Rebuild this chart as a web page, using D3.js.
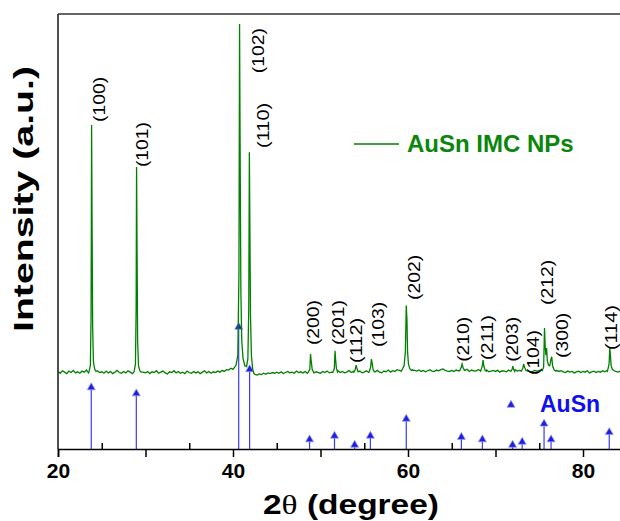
<!DOCTYPE html>
<html><head><meta charset="utf-8">
<script src="https://cdn.jsdelivr.net/npm/d3@7"></script>
<style>html,body{margin:0;padding:0;background:#fff;}svg{display:block;}</style>
</head><body>
<svg id="chart" width="620" height="521"></svg>
<script>
// ---- DATA ----
// measured pattern: background read every 0.25 deg from 20.00 to 84.75
const bgStart = 20, bgStep = 0.25;
const background = [
  24,19,26,22,18,25,21,27,20,23,19,25,22,28,20,24,18,22,26,21,
  23,19,25,20,24,18,22,27,21,19,24,20,26,22,18,25,21,23,19,22,
  20,24,18,23,21,26,19,22,25,20,17,23,21,26,20,24,19,22,18,25,
  21,19,24,20,23,18,22,26,20,24,19,23,21,25,22,27,24,29,28,33,
  30,38,48,60,50,45,40,36,30,22,16,14,17,15,19,16,20,18,21,19,
  22,19,23,18,21,24,20,22,19,25,21,23,20,24,19,22,26,20,23,21,
  19,24,21,25,20,22,18,23,26,21,24,20,22,27,21,24,19,23,25,20,
  22,26,21,24,19,23,27,22,20,25,23,28,22,26,24,29,27,25,28,26,
  29,31,28,27,25,28,24,27,23,26,29,25,24,28,26,29,31,27,25,24,
  27,24,28,26,29,25,27,30,24,28,26,25,29,27,24,26,28,23,25,27,
  24,27,22,26,25,23,28,24,26,29,25,27,23,26,28,25,22,24,27,25,
  26,30,40,60,70,60,45,35,27,24,26,23,21,25,22,24,20,23,25,21,
  24,22,26,20,23,25,21,24,22,26,23,27,28,30,26,24,22,25,23,24
];
// measured peak profiles [2theta, intensity]
const peakProfiles = [
  [[23.55,24],[23.7,40],[23.78,180],[23.84,716],[23.9,420],[23.96,150],[24.05,50],[24.2,30],[24.35,24]],
  [[28.7,23],[28.85,45],[28.93,200],[28.98,598],[29.04,350],[29.1,110],[29.2,40],[29.35,26],[29.5,22]],
  [[40.35,42],[40.55,70],[40.68,300],[40.75,1000],[40.82,620],[40.9,250],[41.0,110],[41.15,60],[41.35,40],[41.55,38],[41.7,60],[41.8,200],[41.87,640],[41.93,430],[42.0,180],[42.1,70],[42.25,30],[42.4,18]],
  [[48.6,22],[48.78,30],[48.86,73],[48.93,55],[49.05,30],[49.2,22]],
  [[51.4,21],[51.58,32],[51.66,82],[51.72,60],[51.82,32],[51.95,23]],
  [[53.8,22],[53.98,30],[54.07,42],[54.15,34],[54.3,23]],
  [[55.55,22],[55.72,35],[55.82,59],[55.9,48],[56.0,30],[56.15,23]],
  [[59.35,30],[59.55,40],[59.7,80],[59.8,209],[59.88,170],[59.95,80],[60.05,45],[60.2,32],[60.4,27]],
  [[65.9,26],[66.08,35],[66.18,45],[66.28,36],[66.45,27]],
  [[68.3,25],[68.48,38],[68.58,56],[68.66,40],[68.8,28],[68.95,25]],
  [[71.75,24],[71.9,30],[71.98,39],[72.06,31],[72.2,24]],
  [[72.95,25],[73.12,33],[73.22,45],[73.32,36],[73.5,26]],
  [[75.35,27],[75.5,36],[75.6,146],[75.68,95],[75.76,70],[75.84,90],[75.92,55],[76.05,42],[76.2,40],[76.35,60],[76.43,65],[76.52,40],[76.7,28],[76.9,25]],
  [[82.8,25],[82.98,45],[83.06,90],[83.13,70],[83.22,40],[83.35,30],[83.55,26]]
];
// peak labels: hkl, anchor (2theta, intensity) of label bottom
const hklLabels = ["(100)","(101)","(102)","(110)","(200)","(201)","(112)","(103)","(202)","(210)","(211)","(203)","(104)","(212)","(300)","(114)"];
const hklPos    = [24.65, 29.57, 42.89, 43.43, 49.11, 52.03, 54.06, 56.61, 60.69, 66.32, 68.99, 71.85, 74.32, 75.85, 77.57, 83.2];
const hklInt    = [725, 598, 862, 652, 98, 98, 48, 93, 225, 51, 56, 51, 14, 211, 62, 84];
// AuSn reference pattern (relative intensity)
const refPos = [23.8, 28.95, 40.65, 41.9, 48.75, 51.6, 53.9, 55.7, 59.8, 66.1, 68.5, 71.95, 73.05, 75.55, 76.35, 83.0];
const refInt = [50, 45, 100, 65, 7, 10, 2.5, 10, 24, 9, 7, 2.5, 5, 20, 7, 13];
const majorTicks = [20,30,40,50,60,70,80];
const minorTicks = [25,35,45,55,65,75,85];
const tickLabels = {20:"20",40:"40",60:"60",80:"80"};
const seriesName = "AuSn IMC NPs";
const refName = "AuSn";

// ---- BUILD ----
const svg = d3.select("#chart");
const x = d3.scaleLinear().domain([20, 85]).range([58, 626.75]);
const yObs = d3.scaleLinear().domain([0, 1000]).range([380, 24]);
const yRef = d3.scaleLinear().domain([0, 100]).range([449, 328]);
const plotTop = 14, plotBottom = 449;
const SANS = "'Liberation Sans', Arial, sans-serif";

const windows = peakProfiles.map(p => [p[0][0], p[p.length-1][0]]);
let pts = [];
background.forEach((v,i) => {
  const t = bgStart + i*bgStep;
  if (!windows.some(w => t >= w[0] && t <= w[1])) pts.push([t, v]);
});
peakProfiles.forEach(p => p.forEach(d => pts.push(d)));
pts.sort((a,b) => a[0]-b[0]);

svg.append("defs").append("clipPath").attr("id","clip")
  .append("rect").attr("x",58).attr("y",plotTop).attr("width",570).attr("height",plotBottom-plotTop);

const g = svg.append("g").attr("clip-path","url(#clip)");
// reference sticks
g.selectAll("line.ref").data(refPos).join("line").attr("class","ref")
  .attr("x1",d=>x(d)).attr("x2",d=>x(d))
  .attr("y1",yRef(0)).attr("y2",(d,i)=>yRef(refInt[i]))
  .attr("stroke","#3a3aff").attr("stroke-width",1.2);
const tri = d3.symbol().type(d3.symbolTriangle).size(28);
g.selectAll("path.refm").data(refPos).join("path").attr("class","refm")
  .attr("d",tri).attr("transform",(d,i)=>`translate(${x(d)},${yRef(refInt[i])-1})`)
  .attr("fill","#1f1fe0").attr("stroke","#9a9aff").attr("stroke-width",0.7);

// observed pattern
const line = d3.line().x(d=>x(d[0])).y(d=>yObs(d[1]));
g.append("path").datum(pts).attr("d",line)
  .attr("fill","none").attr("stroke","#008000").attr("stroke-width",1.3);

// frame
svg.append("line").attr("x1",58).attr("x2",620).attr("y1",plotTop).attr("y2",plotTop)
  .attr("stroke","#333").attr("stroke-width",1.6);
svg.append("line").attr("x1",58).attr("x2",58).attr("y1",plotTop).attr("y2",plotBottom)
  .attr("stroke","#222").attr("stroke-width",1.6);

// x axis
const axMajor = d3.axisBottom(x).tickValues(majorTicks).tickSize(8).tickPadding(6)
  .tickFormat(d => tickLabels[d] || "");
const ax = svg.append("g").attr("transform",`translate(0,${plotBottom})`).call(axMajor);
ax.select(".domain").attr("stroke","#000").attr("stroke-width",1.6);
ax.selectAll(".tick line").attr("stroke","#000").attr("stroke-width",1.5);
ax.selectAll(".tick text").attr("font-family",SANS)
  .attr("font-weight","bold").attr("font-size",21).attr("fill","#000");
const axMinor = d3.axisBottom(x).tickValues(minorTicks).tickSize(-6).tickFormat("");
const ax2 = svg.append("g").attr("transform",`translate(0,${plotBottom})`).call(axMinor);
ax2.select(".domain").remove();
ax2.selectAll(".tick line").attr("stroke","#000").attr("stroke-width",1.5);

// peak labels
svg.selectAll("text.hkl").data(hklLabels).join("text").attr("class","hkl")
  .attr("transform",(d,i)=>`translate(${x(hklPos[i])},${yObs(hklInt[i])}) rotate(-90)`)
  .attr("dy","0.36em")
  .attr("font-family",SANS).attr("font-size",17).attr("fill","#000")
  .attr("textLength",45).attr("lengthAdjust","spacingAndGlyphs")
  .text(d=>d);

// legend observed
svg.append("line").attr("x1",354).attr("x2",399).attr("y1",144).attr("y2",144)
  .attr("stroke","#008000").attr("stroke-width",1.6);
svg.append("text").attr("x",407).attr("y",152)
  .attr("font-family",SANS).attr("font-weight","bold")
  .attr("font-size",24).attr("fill","#0a870a").text(seriesName);
// legend reference
svg.append("path").attr("d",tri).attr("transform","translate(511,405)")
  .attr("fill","#1f1fe0").attr("stroke","#9a9aff").attr("stroke-width",0.7);
svg.append("text").attr("x",540).attr("y",412)
  .attr("font-family",SANS).attr("font-weight","bold")
  .attr("font-size",23).attr("fill","#1010ee").text(refName);

// axis titles
const xt = svg.append("text").attr("x",263).attr("y",514)
  .attr("font-family",SANS).attr("font-weight","bold")
  .attr("font-size",27).attr("fill","#000")
  .attr("textLength",176).attr("lengthAdjust","spacingAndGlyphs");
xt.append("tspan").text("2");
xt.append("tspan").attr("font-family","'Liberation Serif', serif").attr("font-weight","normal").text("θ");
xt.append("tspan").text(" (degree)");
svg.append("text").attr("transform","translate(33,199) rotate(-90)").attr("text-anchor","middle")
  .attr("font-family",SANS).attr("font-weight","bold")
  .attr("font-size",27).attr("fill","#000")
  .attr("textLength",266).attr("lengthAdjust","spacingAndGlyphs")
  .text("Intensity (a.u.)");
</script>
</body></html>
